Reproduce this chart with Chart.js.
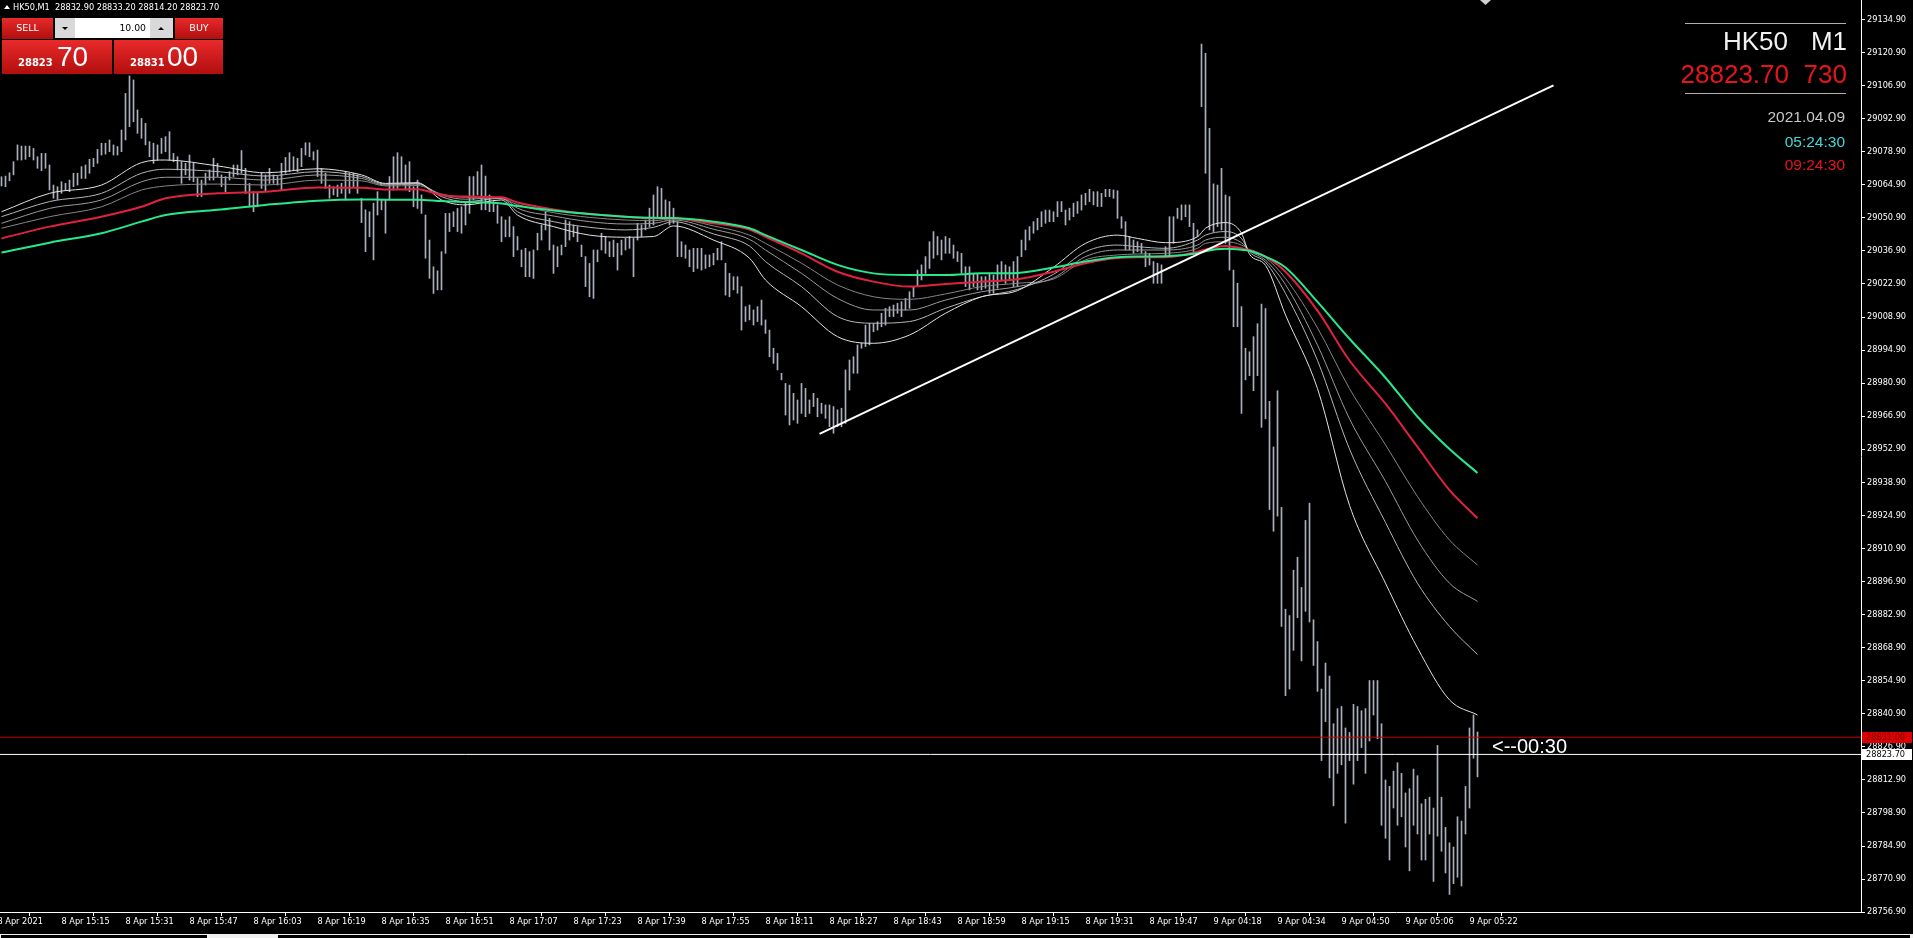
<!DOCTYPE html>
<html><head><meta charset="utf-8">
<script src="https://cdn.jsdelivr.net/npm/chart.js@4.4.0/dist/chart.umd.min.js"></script>
<style>html,body{margin:0;padding:0;background:#000;overflow:hidden}canvas{display:block}</style>
</head><body>
<canvas id="c" width="1913" height="938" style="width:1913px;height:938px"></canvas>
<script>
// ---------- chart values ----------
const symbol = 'HK50', timeframe = 'M1';
const lastOHLC = [28832.90, 28833.20, 28814.20, 28823.70];
const bidPrice = 28823.70, askPrice = 28831.00;
const spreadPoints = 730;
const lotSize = '10.00';
const serverDate = '2021.04.09', serverTime = '05:24:30', localTime = '09:24:30';
const countdownText = '<--00:30';

const timeLabels = ['8 Apr 2021','8 Apr 15:15','8 Apr 15:31','8 Apr 15:47','8 Apr 16:03','8 Apr 16:19','8 Apr 16:35','8 Apr 16:51','8 Apr 17:07','8 Apr 17:23','8 Apr 17:39','8 Apr 17:55','8 Apr 18:11','8 Apr 18:27','8 Apr 18:43','8 Apr 18:59','8 Apr 19:15','8 Apr 19:31','8 Apr 19:47','9 Apr 04:18','9 Apr 04:34','9 Apr 04:50','9 Apr 05:06','9 Apr 05:22'];
const barsPerTimeLabel = 16;
const priceTicks = [29134.90,29120.90,29106.90,29092.90,29078.90,29064.90,29050.90,29036.90,29022.90,29008.90,28994.90,28980.90,28966.90,28952.90,28938.90,28924.90,28910.90,28896.90,28882.90,28868.90,28854.90,28840.90,28826.90,28812.90,28798.90,28784.90,28770.90,28756.90];

const firstBar = 1;
const barHigh = [
29068.3,29068.6,29070.0,29074.7,29081.8,29081.3,29081.3,29081.3,29080.3,29076.8,
29078.2,29078.2,29073.3,29064.8,29064.1,29066.2,29065.5,29066.9,29069.8,29069.8,
29072.6,29073.3,29075.7,29076.1,29079.9,29082.5,29082.5,29083.9,29081.8,29081.1,
29088.1,29103.6,29111.0,29109.3,29096.6,29093.0,29090.9,29083.2,29082.5,29081.8,
29084.6,29085.3,29087.4,29078.2,29076.8,29074.7,29074.0,29077.5,29074.0,29067.6,
29066.9,29069.8,29071.2,29076.1,29074.0,29069.1,29068.4,29070.5,29073.3,29073.3,
29079.4,29071.9,29065.5,29062.0,29061.6,29069.8,29069.1,29071.9,29069.1,29068.4,
29074.0,29076.5,29078.5,29076.8,29076.1,29080.3,29082.7,29082.7,29078.9,29079.6,
29071.9,29069.8,29064.8,29064.1,29064.8,29065.5,29070.5,29069.8,29069.8,29069.1,
29059.2,29054.3,29053.5,29057.1,29062.0,29058.5,29058.5,29068.4,29076.8,29078.5,
29076.8,29073.3,29074.7,29064.1,29066.9,29060.6,29052.1,29041.5,29030.2,29028.5,
29036.6,29052.8,29052.8,29053.5,29054.9,29055.6,29057.1,29068.4,29068.4,
29070.5,29073.3,29068.6,29060.6,29057.8,29056.4,29051.4,29050.0,29051.4,29047.2,
29043.0,29037.3,29038.0,29036.6,29037.3,29044.4,29047.9,29053.5,29050.7,29039.4,
29038.7,29039.4,29050.0,29049.3,29047.9,29047.2,29039.4,29034.5,29031.6,29037.3,
29037.3,29044.4,29043.0,29040.8,29041.5,29040.1,29041.5,29042.2,29043.0,29042.2,
29048.6,29047.9,29050.0,29055.0,29060.6,29064.1,29063.4,29058.5,29057.8,29055.0,
29049.3,29040.8,29039.4,29037.3,29038.0,29038.0,29038.0,29035.2,29035.2,29035.9,
29038.0,29040.8,29031.7,29027.4,29026.0,29026.0,29021.8,29013.3,29014.0,29011.9,
29013.3,29016.1,29007.7,29003.4,28995.7,28993.5,28985.1,28980.8,28980.1,28976.6,
28973.8,28980.8,28978.7,28973.8,28976.6,28974.5,28972.4,28971.7,28971.7,28971.0,
28969.6,28970.3,28986.5,28990.7,28992.1,28997.1,28997.8,29005.5,29006.2,29006.2,
29006.9,29010.5,29012.6,29013.3,29014.0,29014.7,29015.4,29016.8,29019.6,29021.8,
29028.8,29031.0,29034.5,29040.8,29045.1,29043.0,29041.5,29043.0,29042.2,29039.4,
29036.6,29035.9,29030.2,29030.2,29027.4,29027.4,29026.0,29026.0,29027.4,29026.7,
29031.0,29032.4,29031.0,29030.2,29032.4,29034.5,
29041.5,29045.8,29047.2,29049.3,29050.7,29053.5,29054.2,29054.2,29053.5,29057.8,
29057.8,29054.2,29055.0,29057.1,29057.8,29060.6,29061.3,29063.0,29062.0,29062.0,
29061.3,29063.0,29063.0,29062.7,29062.4,29051.4,29049.3,29043.0,29041.5,29040.8,
29040.1,29036.6,29035.9,29032.4,29031.7,29031.0,29038.7,29051.4,29051.4,29055.0,
29056.4,29056.4,29056.4,29048.6,29045.8,29124.5,29120.6,29088.8,29065.3,29064.8,
29071.9,29060.6,29059.9,29028.8,29023.2,29013.3,28995.7,
28994.2,29000.6,29006.1,29014.4,29012.5,28973.2,28953.9,28977.7,28928.3,28885.2,
28882.5,28901.7,28907.2,28894.4,28922.8,28930.1,28880.7,28871.5,28851.4,28862.4,
28856.9,28836.7,28843.1,28844.0,28834.9,28833.0,28844.9,28844.0,28842.2,28843.1,
28855.0,28855.0,28855.0,28836.7,28812.9,28810.2,28816.6,28820.2,28815.7,28807.4,
28809.2,28817.5,28814.7,28802.8,28804.7,28805.6,28801.0,28827.5,28805.6,28792.8,
28786.3,28784.5,28797.3,28795.5,28810.2,28834.9,28840.4,28833.2];
const barLow = [
29064.4,29064.1,29066.6,29069.1,29075.4,29075.4,29075.7,29076.8,29075.4,29071.9,
29070.9,29071.9,29062.7,29059.2,29058.7,29061.3,29062.7,29062.0,29064.1,29064.8,
29067.6,29067.6,29069.8,29072.6,29074.0,29077.5,29077.9,29078.9,29077.5,29077.5,
29078.9,29083.9,29089.5,29091.6,29086.7,29084.6,29081.8,29076.8,29074.0,29075.4,
29078.2,29078.9,29075.4,29074.7,29071.2,29065.5,29069.1,29066.9,29066.2,29059.9,
29059.9,29064.8,29066.9,29066.9,29068.4,29064.1,29062.0,29066.9,29068.4,29069.1,
29069.8,29061.3,29055.6,29053.5,29055.6,29063.4,29062.0,29065.5,29065.5,29064.8,
29062.7,29069.8,29070.5,29071.2,29070.5,29072.6,29077.5,29076.8,29075.4,29068.4,
29065.5,29063.4,29059.2,29060.6,29059.9,29061.3,29058.5,29061.3,29064.1,29061.3,
29048.9,29036.6,29042.9,29033.1,29052.1,29054.3,29044.4,29058.5,29062.7,29063.4,
29065.5,29062.7,29062.0,29055.6,29054.9,29052.8,29033.8,29025.3,29018.9,29020.4,
29020.4,29035.9,29045.1,29047.2,29045.1,29044.4,29047.9,29052.8,29058.5,
29060.6,29054.3,29054.3,29053.5,29053.5,29048.6,29040.8,29042.9,29042.9,29034.5,
29037.3,29030.2,29026.0,29026.0,29025.3,29037.3,29041.5,29045.8,29037.3,29027.4,
29030.2,29035.2,29038.7,29041.5,29042.9,29040.8,29034.5,29021.8,29017.5,29016.8,
29032.3,29037.3,29035.9,29034.5,29034.5,29028.8,29035.2,29037.3,29038.0,29026.0,
29041.5,29043.0,29045.8,29047.2,29047.9,29050.7,29051.4,29050.0,29047.9,29048.6,
29034.5,29034.5,29033.8,29030.2,29028.1,29029.5,29028.8,29029.5,29030.2,29031.0,
29033.1,29033.1,29018.2,29017.5,29020.4,29019.0,29003.4,29007.0,29007.7,29005.5,
29007.0,29005.5,29002.0,28992.1,28989.3,28986.5,28982.3,28967.4,28963.2,28965.3,
28963.9,28968.1,28966.7,28968.1,28971.0,28966.7,28968.1,28966.0,28962.5,28959.7,
28962.5,28962.5,28963.9,28978.0,28985.1,28985.1,28995.7,28996.4,28997.1,29002.7,
29003.4,29004.8,29005.5,29009.1,29009.1,29010.5,29009.1,29011.9,29012.6,29017.5,
29021.8,29024.6,29027.4,29029.5,29033.8,29035.2,29033.1,29035.9,29035.9,29033.8,
29032.4,29027.4,29021.8,29020.4,29021.8,29020.4,29020.4,29021.1,29019.0,29019.0,
29021.1,29024.6,29023.2,29024.6,29021.8,29021.8,
29034.5,29037.3,29041.5,29044.4,29045.8,29047.2,29048.6,29049.3,29049.3,29051.4,
29053.5,29047.9,29050.0,29051.4,29052.8,29054.2,29056.4,29057.8,29056.4,29055.7,
29055.7,29059.9,29059.9,29059.2,29050.7,29046.5,29037.3,29037.3,29035.9,29036.6,
29035.9,29030.2,29030.9,29023.2,29023.2,29023.2,29034.5,29034.5,29040.1,29050.7,
29050.0,29051.4,29047.2,29036.6,29043.0,29098.0,29069.8,29045.8,29045.1,29047.2,
29045.8,29040.1,29028.8,29004.8,29004.8,28968.1,28982.3,
28984.1,28977.7,28984.1,28962.2,28965.8,28927.4,28918.2,28924.6,28877.9,28848.6,
28851.4,28867.8,28881.6,28863.3,28884.3,28879.8,28861.4,28850.4,28821.1,28837.6,
28813.8,28801.9,28815.7,28819.3,28794.6,28821.1,28811.1,28821.1,28826.6,28815.7,
28829.4,28840.4,28830.3,28793.7,28788.2,28779.0,28801.0,28793.7,28797.3,28784.5,
28774.4,28793.7,28790.0,28779.0,28779.0,28790.0,28769.9,28789.1,28782.7,28773.5,
28764.4,28769.0,28771.7,28768.0,28790.0,28801.0,28822.1,28814.2];

// moving averages read at these bars
const maBars = [1,13,26,36,42,55,67,80,91,97,105,111,117,126,130,139,148,157,164,169,179,188,192,201,210,219,228,237,246,255,264,272,280,285,292,300,302,307,311,313,317,322,330,338,347,355,363,370];
const maGreen = [29036.2,29040.4,29044.4,29049.3,29052.1,29054.3,29056.4,29058.2,29058.7,29058.6,29058.6,29058.0,29057.6,29057.0,29055.9,29054.0,29052.5,29051.4,29050.9,29050.8,29049.3,29046.5,29043.6,29037.3,29031.0,29027.4,29026.7,29026.7,29027.4,29027.6,29029.9,29032.4,29034.2,29034.5,29034.6,29035.9,29036.8,29037.8,29037.4,29037.0,29034.5,29029.9,29015.3,28999.7,28983.2,28966.7,28953.0,28942.9];
const maRed = [29042.2,29047.2,29051.4,29055.6,29059.2,29061.3,29062.0,29063.8,29063.7,29062.9,29063.0,29060.6,29059.9,29059.6,29057.4,29054.5,29052.5,29051.4,29050.7,29050.6,29048.6,29046.0,29042.9,29035.9,29028.1,29023.9,29021.8,29022.9,29023.9,29024.9,29028.1,29031.7,29033.9,29034.2,29034.2,29036.6,29037.5,29039.0,29038.0,29037.3,29034.5,29028.1,29011.6,28990.5,28972.2,28953.9,28935.6,28923.7];
const maGray4 = [29046.5,29051.4,29055.6,29062.7,29064.4,29065.2,29064.8,29066.9,29066.6,29064.4,29064.6,29061.0,29059.6,29059.0,29056.5,29053.1,29051.1,29050.0,29049.7,29050.6,29047.5,29043.6,29040.1,29031.7,29022.5,29017.5,29016.4,29018.7,29021.8,29023.2,29025.0,29033.1,29035.2,29035.6,29035.9,29038.0,29040.1,29040.8,29039.4,29037.3,29034.0,29025.3,29004.3,28978.6,28954.8,28932.9,28914.5,28903.9];
const maGray3 = [29048.6,29054.9,29058.5,29066.2,29068.1,29068.1,29066.9,29069.1,29067.6,29064.8,29065.2,29060.6,29058.8,29059.6,29055.0,29051.7,29049.3,29048.3,29048.6,29050.0,29046.1,29041.8,29037.3,29027.4,29016.8,29011.9,29011.9,29016.1,29019.6,29021.8,29025.5,29034.5,29037.3,29037.3,29037.3,29039.4,29041.5,29042.7,29040.4,29037.0,29033.0,29022.6,28997.0,28965.8,28939.3,28914.5,28896.2,28888.5];
const maGray2 = [29051.4,29057.8,29061.3,29069.8,29071.5,29070.5,29068.6,29070.5,29068.4,29065.2,29065.5,29059.9,29057.8,29059.2,29053.5,29049.3,29046.9,29045.8,29046.9,29049.3,29044.1,29039.0,29032.4,29021.8,29009.1,29006.3,29007.0,29012.6,29017.5,29020.6,29027.0,29036.6,29039.4,29038.7,29038.0,29041.5,29043.6,29045.1,29042.2,29036.5,29032.1,29018.9,28990.5,28953.0,28921.9,28896.2,28877.9,28866.0];
const maWhite = [29053.5,29061.3,29064.8,29074.3,29075.4,29072.9,29070.0,29071.7,29069.1,29065.5,29065.8,29058.5,29056.4,29058.5,29052.1,29047.2,29043.6,29042.7,29043.0,29047.5,29041.5,29033.8,29024.6,29013.3,29000.6,28997.8,29001.3,29010.5,29017.5,29020.1,29030.0,29040.1,29043.6,29042.2,29040.4,29042.9,29046.5,29048.9,29044.4,29035.5,29030.8,29009.8,28978.6,28929.2,28896.2,28868.8,28846.8,28840.4];

const trendBars = [205.5, 389.0];
const trendPrices = [28959.4, 29107.0];

// ---------- layout constants ----------
const W = 1913, H = 938;
const PLOT_RIGHT = 1861, PLOT_BOTTOM = 912;
const PX_PER_BAR = 4;
const X_MIN = 0.625, X_MAX = X_MIN + PLOT_RIGHT / PX_PER_BAR;
const Y_MAX = 29143.157, Y_MIN = Y_MAX - PLOT_BOTTOM / 2.3616;

const ohlcBars = barHigh.map((h, k) => ({ x: firstBar + k, y: [barLow[k], h] }));
function maSet(vals, color, width, order) {
  return { type: 'line', data: maBars.map((b, k) => ({ x: b, y: vals[k] })), borderColor: color, borderWidth: width,
    pointRadius: 0, cubicInterpolationMode: 'monotone', order: order };
}
function hLine(p, color, order) {
  return { type: 'line', data: [{ x: X_MIN, y: p }, { x: X_MAX, y: p }], borderColor: color, borderWidth: 1, pointRadius: 0, order: order };
}

const FONT_SMALL = { family: 'DejaVu Sans', size: 8.2 };

const deco = {
  id: 'deco',
  beforeDraw(c) { const x = c.ctx; x.save(); x.fillStyle = '#000'; x.fillRect(0, 0, W, H); x.restore(); },
  afterDraw(c) {
    const x = c.ctx, ys = c.scales.y;
    x.save();
    // price boxes on the axis
    x.font = '8.2px "DejaVu Sans"'; x.textBaseline = 'middle'; x.textAlign = 'left';
    [[askPrice, '#dd0000', '#7a0000'], [bidPrice, '#ffffff', '#000000']].forEach(([p, bg, fg]) => {
      const py = Math.round(ys.getPixelForValue(p));
      x.fillStyle = bg; x.fillRect(1862, py - 5, 50, 11);
      x.fillStyle = fg; x.fillText(p.toFixed(2), 1866, py + 0.5);
    });
    // header
    x.fillStyle = '#fff';
    x.beginPath(); x.moveTo(4, 9); x.lineTo(10, 9); x.lineTo(7, 5); x.closePath(); x.fill();
    x.fillText(symbol + ',' + timeframe + '  ' + lastOHLC.map(v => v.toFixed(2)).join(' '), 13, 7.5);
    // trade panel
    const g = (y0, y1) => { const gr = x.createLinearGradient(0, y0, 0, y1); gr.addColorStop(0, '#e82a2a'); gr.addColorStop(1, '#b20e0e'); return gr; };
    x.fillStyle = g(18, 39); x.fillRect(2, 18, 51, 21); x.fillRect(175, 18, 48, 21);
    x.fillStyle = g(40, 74); x.fillRect(2, 40, 110, 34); x.fillRect(114, 40, 109, 34);
    x.fillStyle = '#d9d9d9'; x.fillRect(55, 18, 20, 20); x.fillRect(150, 18, 23, 20);
    x.fillStyle = '#ffffff'; x.fillRect(75, 18, 75, 20);
    x.fillStyle = '#000';
    x.beginPath(); x.moveTo(62, 27); x.lineTo(68, 27); x.lineTo(65, 30); x.closePath(); x.fill();
    x.beginPath(); x.moveTo(158, 30); x.lineTo(164, 30); x.lineTo(161, 27); x.closePath(); x.fill();
    x.font = '9.3px "DejaVu Sans"'; x.textAlign = 'right'; x.fillText(lotSize, 146, 28.5);
    x.fillStyle = '#fff'; x.textAlign = 'center'; x.font = '9.5px "DejaVu Sans"';
    x.fillText('SELL', 27.5, 29); x.fillText('BUY', 199, 29);
    x.textAlign = 'left'; x.textBaseline = 'alphabetic';
    const bidStr = bidPrice.toFixed(2), askStr = askPrice.toFixed(2);
    x.font = 'bold 10px "DejaVu Sans"'; x.fillText(bidStr.slice(0, 5), 18, 66); x.fillText(askStr.slice(0, 5), 130, 66);
    x.font = '28px "Liberation Sans"'; x.fillText(bidStr.slice(6, 8), 57, 66); x.fillText(askStr.slice(6, 8), 167, 66);
    // info panel (top right)
    x.strokeStyle = '#b0b0b0'; x.lineWidth = 1;
    x.beginPath(); x.moveTo(1685, 23.5); x.lineTo(1846, 23.5); x.moveTo(1685, 93.5); x.lineTo(1846, 93.5); x.stroke();
    x.font = '26px "Liberation Sans"'; x.textAlign = 'right'; x.fillStyle = '#f2f2f2';
    x.fillText(symbol, 1788, 50); x.fillText(timeframe, 1847, 50);
    x.fillStyle = '#e8141c'; x.fillText(bidStr, 1789, 83); x.fillText(String(spreadPoints), 1847, 83);
    x.font = '15.5px "Liberation Sans"'; x.textBaseline = 'middle';
    x.fillStyle = '#c8c8c8'; x.fillText(serverDate, 1845, 118);
    x.fillStyle = '#3fd8d8'; x.fillText(serverTime, 1845, 143);
    x.fillStyle = '#e8141c'; x.fillText(localTime, 1845, 166);
    // countdown
    x.font = '20px "Liberation Sans"'; x.textAlign = 'left'; x.fillStyle = '#fff';
    x.fillText(countdownText, 1492, Math.round(ys.getPixelForValue(bidPrice)) - 7);
    // chart shift marker
    x.fillStyle = '#d0d0d0'; x.beginPath(); x.moveTo(1480, 0); x.lineTo(1491, 0); x.lineTo(1485.5, 5); x.closePath(); x.fill();
    // bottom tab strip
    x.fillStyle = '#f0f0f0'; x.fillRect(0, 934, 1913, 4);
    x.fillStyle = '#000'; x.fillRect(1, 935, 206, 3); x.fillRect(278, 935, 1632, 3);
    x.restore();
  }
};

new Chart(document.getElementById('c'), {
  type: 'bar',
  data: { datasets: [
    { type: 'bar', data: ohlcBars, backgroundColor: '#a9afbc', borderWidth: 0, barThickness: 1, grouped: false, order: 20 },
    maSet(maGray4, '#858585', 1, 10),
    maSet(maGray3, '#9a9a9a', 1, 9),
    maSet(maGray2, '#b5b5b5', 1, 8),
    maSet(maWhite, '#e2e2e2', 1, 7),
    maSet(maRed, '#e0223f', 2, 6),
    maSet(maGreen, '#27e98c', 2, 5),
    hLine(askPrice, '#cc0000', 4),
    hLine(bidPrice, '#ffffff', 3),
    { type: 'line', data: trendBars.map((b, k) => ({ x: b, y: trendPrices[k] })), borderColor: '#ffffff', borderWidth: 2, pointRadius: 0, order: 1 }
  ] },
  options: {
    responsive: false, animation: false, devicePixelRatio: 1,
    layout: { padding: 0 },
    plugins: { legend: { display: false }, tooltip: { enabled: false } },
    scales: {
      x: { type: 'linear', min: X_MIN, max: X_MAX, position: 'bottom', offset: false,
        afterFit(s) { s.height = H - PLOT_BOTTOM; s.paddingLeft = 0; s.paddingRight = 0; },
        afterBuildTicks(s) { s.ticks = timeLabels.map((t, k) => ({ value: k * barsPerTimeLabel })); },
        ticks: { autoSkip: false, maxRotation: 0, minRotation: 0, align: 'start', color: '#ffffff', font: FONT_SMALL, padding: 1,
          callback: (v, i) => timeLabels[i] },
        grid: { display: true, drawOnChartArea: false, drawTicks: true, tickLength: 4, color: '#ffffff' },
        border: { display: true, color: '#ffffff', width: 1 } },
      y: { type: 'linear', position: 'right', min: Y_MIN, max: Y_MAX,
        afterFit(s) { s.width = W - PLOT_RIGHT; s.paddingTop = 0; s.paddingBottom = 0; },
        afterBuildTicks(s) { s.ticks = priceTicks.map(v => ({ value: v })); },
        ticks: { autoSkip: false, color: '#ffffff', font: FONT_SMALL, padding: 2, callback: v => v.toFixed(2) },
        grid: { display: true, drawOnChartArea: false, drawTicks: true, tickLength: 4, color: '#ffffff' },
        border: { display: true, color: '#ffffff', width: 1 } }
    }
  },
  plugins: [deco]
});
</script>
</body></html>
